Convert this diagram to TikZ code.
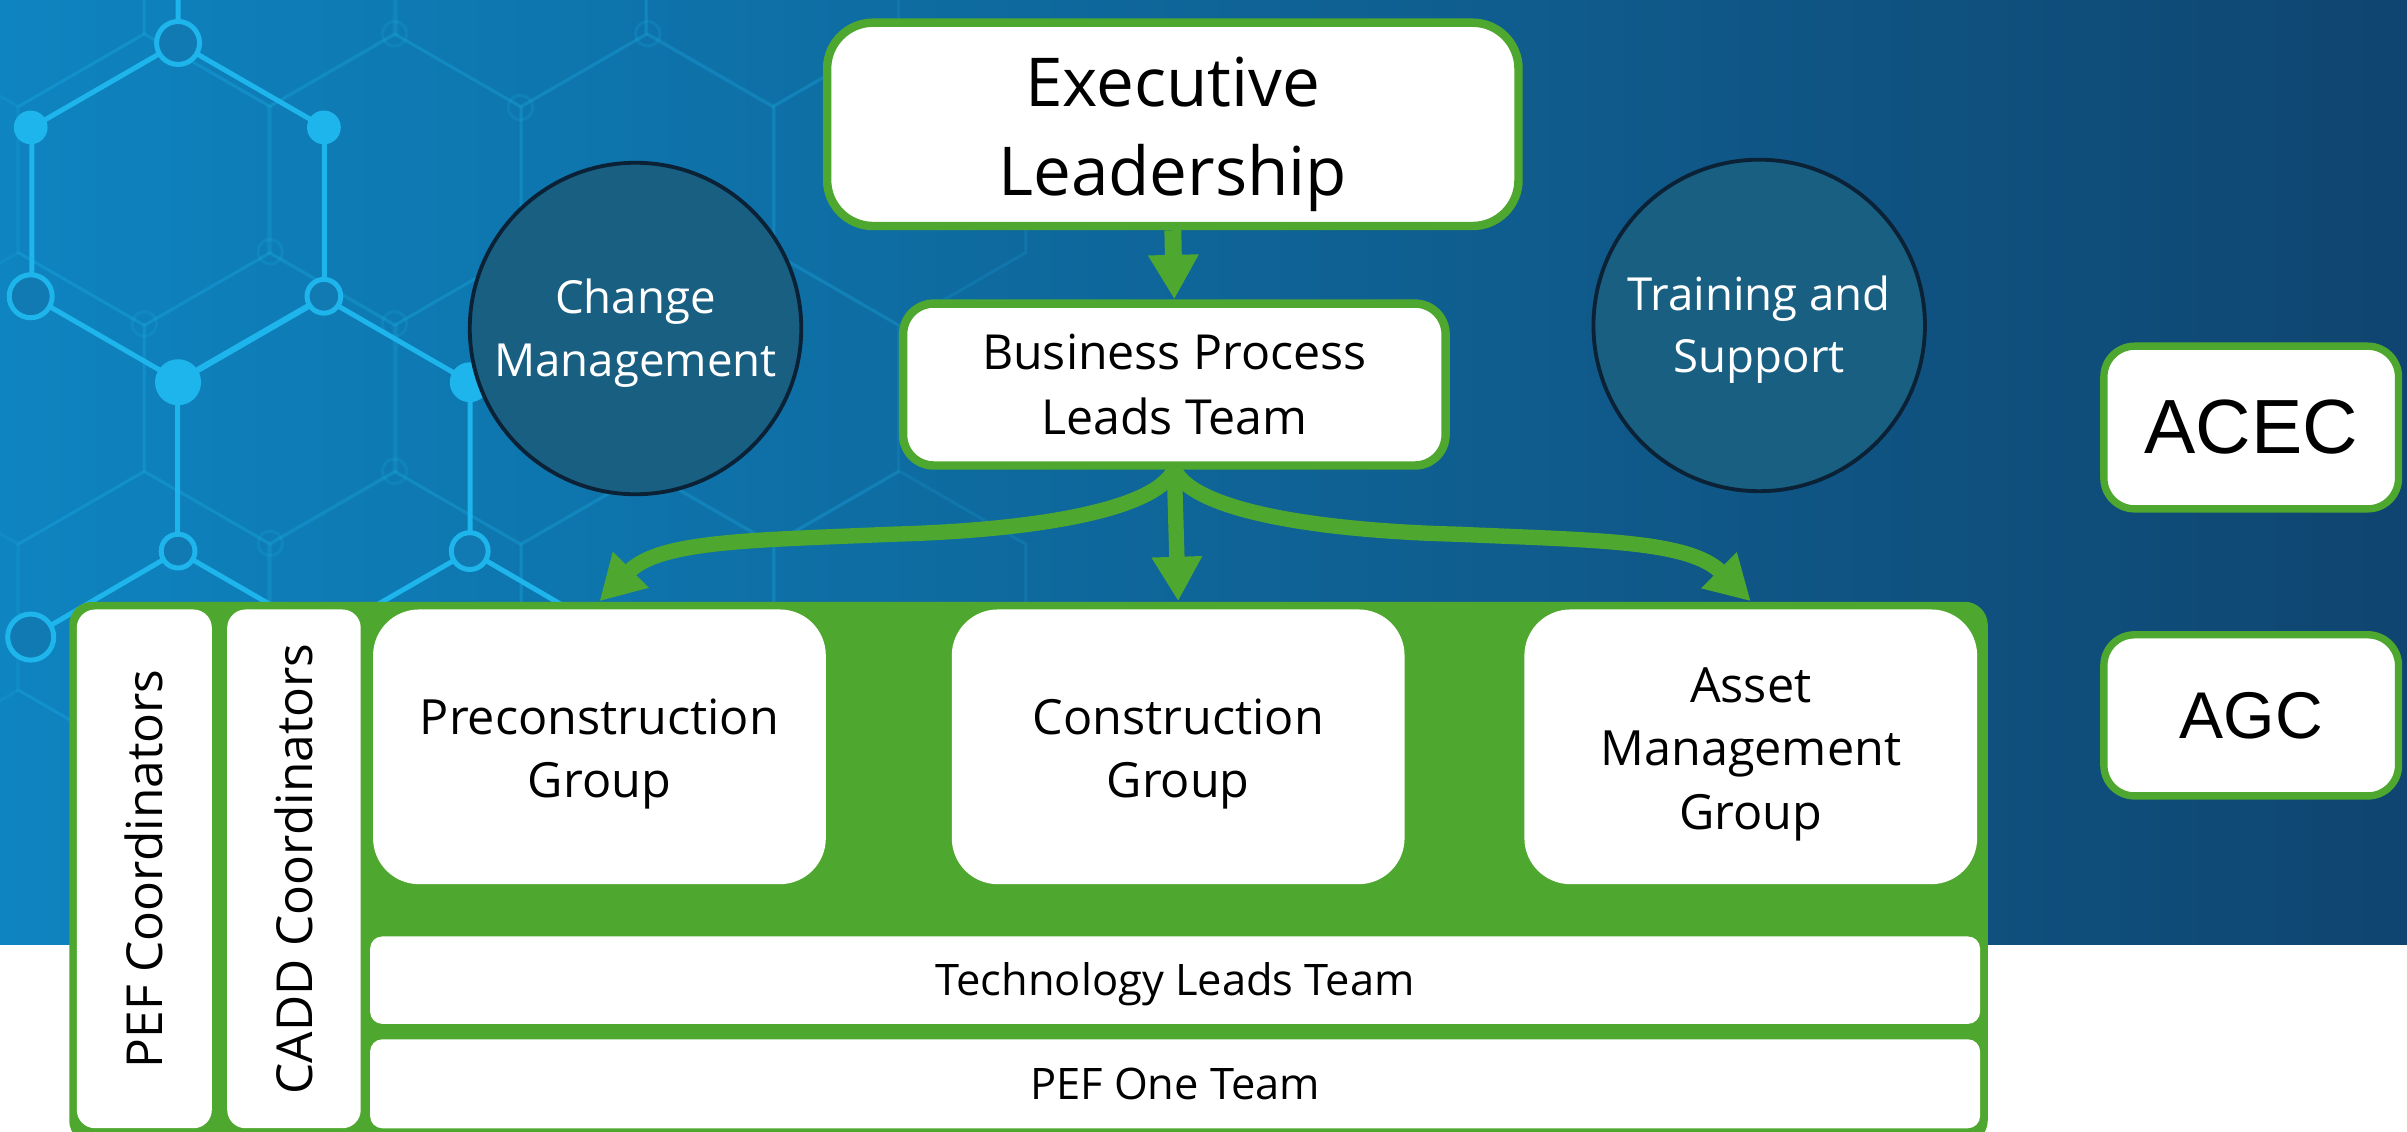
\documentclass[tikz,border=0pt]{standalone}
\usepackage{fontspec}
\setmainfont{Open Sans}
\newfontfamily\arialfont{Liberation Sans}
\usetikzlibrary{arrows.meta}
\definecolor{pefgreen}{HTML}{4EA72E}
\definecolor{bgleft}{HTML}{0E84C0}
\definecolor{bgmid}{HTML}{166A9A}
\definecolor{bgright}{HTML}{0F4570}
\definecolor{hubfill}{HTML}{185F82}
\definecolor{hubline}{HTML}{0B2236}
\definecolor{hexcyan}{HTML}{1DB5EB}
\definecolor{hexhole}{HTML}{127AB3}
\newcommand{\droptext}[1]{\rule{0pt}{#1}}
\begin{document}
\begin{tikzpicture}[x=0.02cm, y=-0.02cm,
	box/.style={draw=pefgreen, line width=0.11cm, fill=white, align=center, inner sep=0pt},
	panel/.style={fill=white, align=center, inner sep=0pt},
	hub/.style={circle, draw=hubline, line width=0.05cm, fill=hubfill, text=white, align=center, minimum size=4.32cm, inner sep=0pt, font=\fontsize{16.9}{23.1}\selectfont},
	flow/.style={draw=pefgreen, line width=0.2cm, -{Triangle[length=0.58cm, width=0.62cm]}},
	net/.style={draw=hexcyan, line width=0.065cm},
	faint/.style={draw=hexcyan, line width=0.04cm, opacity=0.16}]
	\useasboundingbox (0,0) rectangle (1568,737);
	\clip (0,0) rectangle (1568,737);
	\shade[left color=bgleft, middle color=bgmid, right color=bgright] (0,0) rectangle (1568,615);
	\begin{scope}
	\clip (0,0) rectangle (1568,615);
	\foreach \cx/\cy in {12/-25.5, 176/-25.5, 339/-25.5, 503/-25.5, 94/117, 257/117, 422/117, 586/117, 12/259.5, 176/259.5, 339/259.5, 503/259.5, 94/402, 257/402, 422/402, 586/402, 12/544.5, 176/544.5, 339/544.5, 503/544.5} {
		\draw[faint] (\cx,\cy) +(30:95) -- +(90:95) -- +(150:95) -- +(210:95) -- +(270:95) -- +(330:95) -- cycle;
	}
	\foreach \px/\py in {257/22, 422/22, 339/70, 176/164, 257/211, 257/307, 176/354, 94/211} {
		\draw[faint] (\px,\py) circle (8);
	}
	\end{scope}
	\foreach \cx/\cy in {116/138, 211/304} {
		\draw[net] (\cx,\cy) +(30:110) -- +(90:110) -- +(150:110) -- +(210:110) -- +(270:110) -- +(330:110) -- cycle;
	}
	\draw[net] (116,0) -- (116,28) (116,359) -- (20,415) (306,359) -- (402,415);
	\foreach \px/\py/\r in {116/28/14, 20/193/14, 211/193/11, 116/359/11, 306/359/12, 20/415/15} {
		\draw[net, fill=hexhole] (\px,\py) circle (\r);
	}
	\foreach \px/\py/\r in {20/83/11, 211/83/11, 116/249/15, 306/249/13} {
		\fill[hexcyan] (\px,\py) circle (\r);
	}
	\node[hub] (chg) at (414,214) {\droptext{16.2pt}Change\\Management};
	\node[hub] (trn) at (1146,212) {\droptext{16.2pt}Training and\\Support};
	\node[fill=pefgreen, rounded corners=0.3cm, minimum width=25cm, minimum height=7.06cm, inner sep=0pt] (grp) at (670,568.5) {};
	\node[panel, rounded corners=0.24cm, minimum width=6.76cm, minimum height=1.76cm, rotate=90, font=\fontsize{18.4}{22}\selectfont] (pefc) at (94,566) {PEF Coordinators};
	\node[panel, rounded corners=0.24cm, minimum width=6.76cm, minimum height=1.74cm, rotate=90, font=\fontsize{18.4}{22}\selectfont] (caddc) at (191.5,566) {CADD Coordinators};
	\node[panel, rounded corners=0.6cm, minimum width=5.9cm, minimum height=3.58cm, font=\fontsize{18}{23.5}\selectfont] (pre) at (390.5,486.5) {\droptext{18.5pt}Preconstruction\\Group};
	\node[panel, rounded corners=0.6cm, minimum width=5.9cm, minimum height=3.58cm, font=\fontsize{18}{23.5}\selectfont] (con) at (767.5,486.5) {\droptext{18.5pt}Construction\\Group};
	\node[panel, rounded corners=0.6cm, minimum width=5.9cm, minimum height=3.58cm, font=\fontsize{18}{23.5}\selectfont] (asset) at (1140.5,486.5) {\droptext{18.5pt}Asset\\Management\\Group};
	\node[panel, rounded corners=0.16cm, minimum width=20.98cm, minimum height=1.14cm, font=\fontsize{16.1}{20}\selectfont] (tech) at (765.5,638.5) {\droptext{15.5pt}Technology Leads Team};
	\node[panel, rounded corners=0.16cm, minimum width=20.98cm, minimum height=1.16cm, font=\fontsize{16.1}{20}\selectfont] (one) at (765.5,706) {PEF One Team};
	\node[box, rounded corners=0.6cm, minimum width=9.01cm, minimum height=2.65cm, font=\fontsize{25}{33}\selectfont] (exec) at (764,81) {\droptext{25.8pt}Executive\\Leadership};
	\node[box, rounded corners=0.4cm, minimum width=7.07cm, minimum height=2.11cm, font=\fontsize{17.9}{23.8}\selectfont] (bplt) at (765,250.5) {Business Process\\Leads Team};
	\draw[flow, line width=0.22cm] (exec.south) -- (bplt.north);
	\draw[flow] (bplt.south) -- (con.north |- grp.north);
	\draw[flow] (bplt.south) .. controls (779,335) and (870,346) .. (949,348) .. controls (1040,352) and (1100,352) .. (asset.north |- grp.north);
	\draw[flow] (bplt.south) .. controls (751,335) and (660,346) .. (581,348) .. controls (490,352) and (430,352) .. (pre.north |- grp.north);
	\node[box, line width=0.096cm, rounded corners=0.4cm, minimum width=3.84cm, minimum height=2.12cm, font=\arialfont\fontsize{28.5}{34}\selectfont] (acec) at (1466.5,278.5) {ACEC};
	\node[box, line width=0.096cm, rounded corners=0.4cm, minimum width=3.84cm, minimum height=2.1cm, font=\arialfont\fontsize{24.5}{30}\selectfont] (agc) at (1466.5,466) {AGC};
\end{tikzpicture}
\end{document}
